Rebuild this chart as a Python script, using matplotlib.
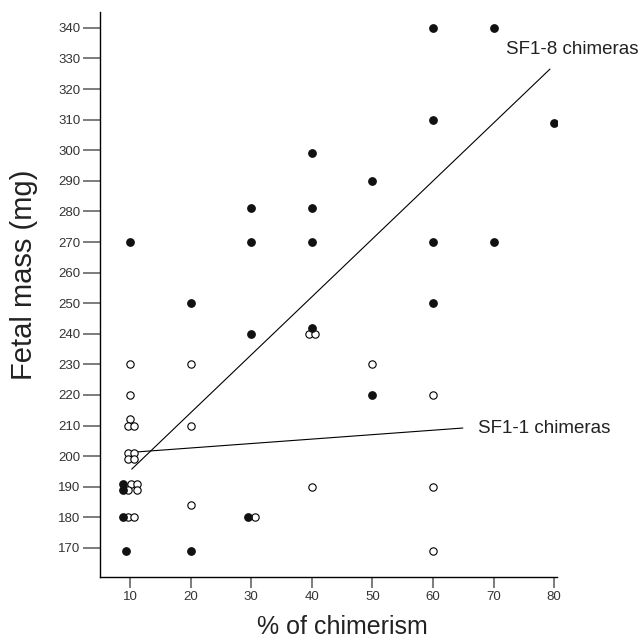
import matplotlib
matplotlib.use("Agg")
import matplotlib.pyplot as plt

plt.rcParams['font.family'] = ['Liberation Sans', 'DejaVu Sans']

# SF1-8 chimeras (filled)
sf18_x = [10, 8.8, 8.8, 8.8, 9.4, 20, 20, 30, 30, 30, 29.4,
          40, 40, 40, 40, 50, 50, 60, 60, 60, 60, 70, 70, 80]
sf18_y = [270, 191, 189, 180, 169, 250, 169, 281, 270, 240, 180,
          299, 281, 270, 242, 290, 220, 340, 310, 270, 250, 340, 270, 309]

# SF1-1 chimeras (open)
sf11_x = [10, 10, 10, 9.6, 10.6, 9.6, 10.6, 9.6, 10.6, 10.2, 11.2,
          9.7, 11.1, 9.6, 10.6, 20, 20, 20, 30.6, 39.6, 40.6, 40, 50,
          60, 60, 60]
sf11_y = [230, 220, 212, 210, 210, 201, 201, 199, 199, 191, 191,
          189, 189, 180, 180, 230, 210, 184, 180, 240, 240, 190, 230,
          220, 190, 169]

# regression line end points
fit18_x = [10.3, 79.3]
fit18_y = [195.8, 326.5]
fit11_x = [11.2, 64.9]
fit11_y = [201.4, 209.2]

x_ticks = [10, 20, 30, 40, 50, 60, 70, 80]
y_ticks = list(range(170, 341, 10))

fig = plt.figure(figsize=(6.42, 6.44), dpi=100)
ax = fig.add_axes([0.1558, 0.104, 0.712, 0.8774])

ax.plot(fit18_x, fit18_y, color='black', lw=0.8)
ax.plot(fit11_x, fit11_y, color='black', lw=0.8)

ax.scatter(sf11_x, sf11_y, s=28, facecolors='white', edgecolors='black',
           linewidths=0.8, zorder=3)
ax.scatter(sf18_x, sf18_y, s=28, color='#111111', zorder=4)

ax.text(72, 332.8, "SF1-8 chimeras", fontsize=13.5, color='#222222',
        va='center', ha='left', clip_on=False)
ax.text(67.5, 209.2, "SF1-1 chimeras", fontsize=13.5, color='#222222',
        va='center', ha='left', clip_on=False)

ax.set_xlim(5.05, 80.5)
ax.set_ylim(160.5, 345.2)
ax.set_xticks(x_ticks)
ax.set_yticks(y_ticks)

ax.spines['top'].set_visible(False)
ax.spines['right'].set_visible(False)
ax.spines['left'].set_linewidth(1.0)
ax.spines['bottom'].set_linewidth(1.0)

ax.tick_params(axis='y', direction='out', length=12, width=1.2,
               color='#666666', labelsize=9.5, labelcolor='#333333', pad=2)
ax.tick_params(axis='x', direction='out', length=8, width=1.2,
               color='#666666', labelsize=9.5, labelcolor='#333333', pad=2)

fig.text(0.0374, 0.573, "Fetal mass (mg)", rotation=90, fontsize=21,
         color='#222222', ha='center', va='center')
fig.text(0.534, 0.016, "% of chimerism", fontsize=18, color='#222222',
         ha='center', va='baseline')

fig.savefig("out.png", dpi=100)
